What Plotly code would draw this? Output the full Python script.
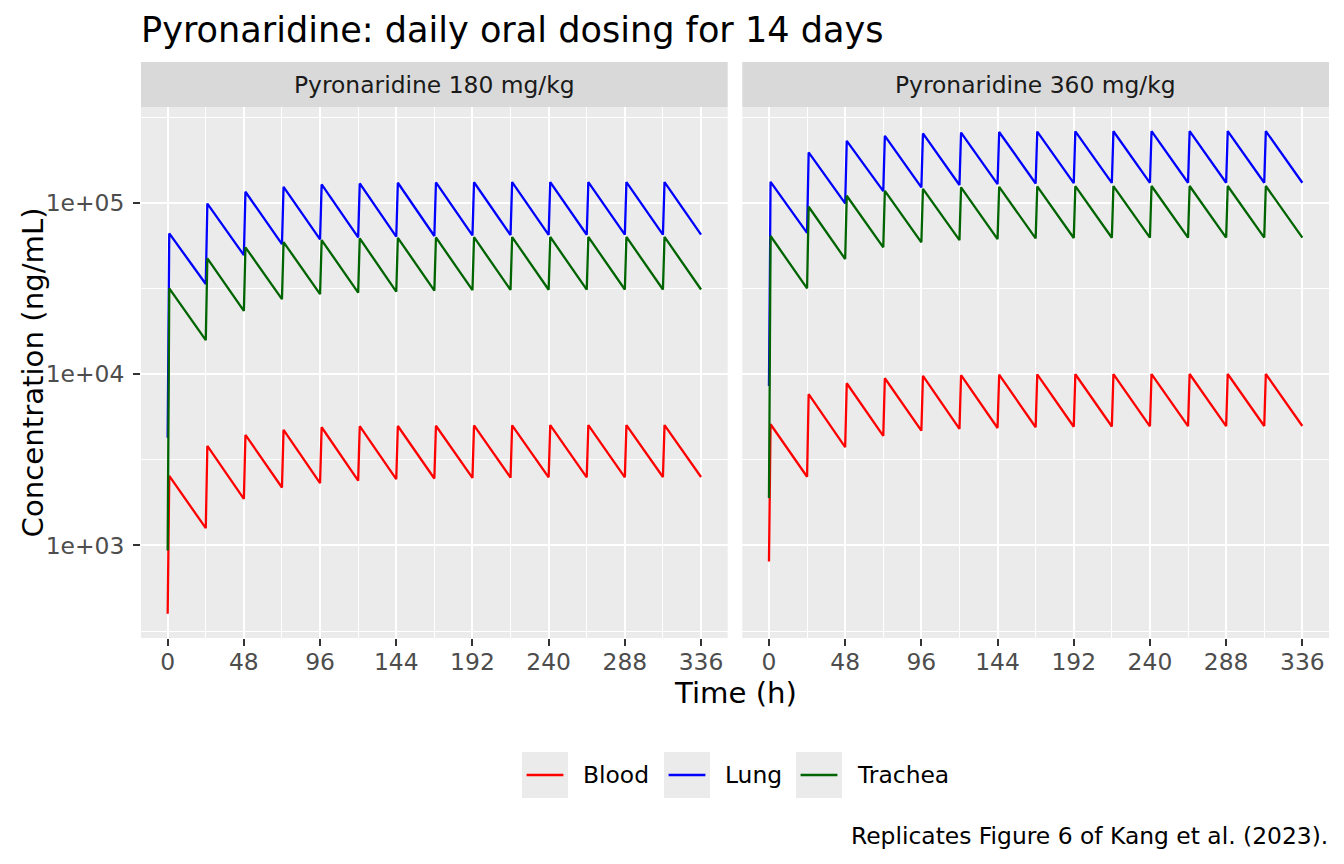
import numpy as np
import plotly.graph_objects as go

# dose times (h) and concentration readings (ng/mL)
dose_h = [0, 24, 48, 72, 96, 120, 144, 168, 192, 216, 240, 264, 288, 312]
peak_h = [1, 25, 49, 73, 97, 121, 145, 169, 193, 217, 241, 265, 289, 313]
trough_h = [24, 48, 72, 96, 120, 144, 168, 192, 216, 240, 264, 288, 312, 336]

tissues = ["Blood", "Lung", "Trachea"]
colors = {"Blood": "#FF0000", "Lung": "#0000FF", "Trachea": "#006400"}
panels = ["Pyronaridine 180 mg/kg", "Pyronaridine 360 mg/kg"]

# 180 mg/kg
blood_180_start = 399
blood_180_peak = [2550, 3810, 4420, 4730, 4900, 4970, 4980, 5000, 5020, 5030, 5040, 5040, 5040, 5040]
blood_180_trough = [1262, 1870, 2180, 2310, 2390, 2440, 2460, 2480, 2490, 2500, 2500, 2500, 2510, 2510]
lung_180_start = 4260
lung_180_peak = [66300, 99000, 116000, 124000, 128000, 129700, 130900, 131500, 131800, 132000, 132100, 132200, 132200, 132200]
lung_180_trough = [33600, 49500, 57400, 61200, 62800, 63400, 64000, 64500, 64800, 65000, 65100, 65200, 65200, 65200]
trachea_180_start = 935
trachea_180_peak = [31700, 47400, 55000, 59000, 60600, 62000, 62500, 62800, 63000, 63100, 63200, 63200, 63200, 63200]
trachea_180_trough = [15800, 23400, 27400, 29300, 29900, 30300, 30700, 30900, 31000, 31100, 31100, 31200, 31200, 31200]

# 360 mg/kg
blood_360_start = 807
blood_360_peak = [5100, 7640, 8850, 9460, 9770, 9860, 9930, 9970, 9990, 10000, 10010, 10020, 10020, 10020]
blood_360_trough = [2520, 3750, 4360, 4680, 4790, 4850, 4900, 4930, 4950, 4960, 4970, 4970, 4980, 4980]
lung_360_start = 8530
lung_360_peak = [132600, 196800, 230000, 246000, 254000, 257000, 259000, 260500, 261200, 261600, 261800, 262000, 262000, 262000]
lung_360_trough = [66800, 99200, 117000, 123000, 127000, 128500, 129700, 130300, 130600, 130800, 131000, 131000, 131000, 131000]
trachea_360_start = 1890
trachea_360_peak = [64000, 94800, 110000, 117500, 120700, 123000, 124000, 124600, 125000, 125200, 125300, 125400, 125400, 125400]
trachea_360_trough = [31700, 47000, 55000, 58800, 60500, 61400, 62000, 62300, 62500, 62600, 62600, 62700, 62700, 62700]

series = {
    (0, "Blood"): (blood_180_start, blood_180_peak, blood_180_trough),
    (0, "Lung"): (lung_180_start, lung_180_peak, lung_180_trough),
    (0, "Trachea"): (trachea_180_start, trachea_180_peak, trachea_180_trough),
    (1, "Blood"): (blood_360_start, blood_360_peak, blood_360_trough),
    (1, "Lung"): (lung_360_start, lung_360_peak, lung_360_trough),
    (1, "Trachea"): (trachea_360_start, trachea_360_peak, trachea_360_trough),
}

W, H = 1344, 864
def px(x):
    return x / W
def py(y):
    return 1 - y / H

FONT = "DejaVu Sans"
SMALL, MID, BIG = 23.4, 29.2, 35.1
fig = go.Figure()

allvals = []
for (p, tis), (start, peaks, troughs) in series.items():
    xs, ys = [0], [start]
    for d, ph, pk, th, tr in zip(dose_h, peak_h, peaks, trough_h, troughs):
        xs += [ph, th]
        ys += [pk, tr]
    allvals += ys
    fig.add_trace(go.Scatter(
        x=xs, y=ys, mode="lines", name=tis, showlegend=False,
        line=dict(color=colors[tis], width=2.3),
        xaxis="x" if p == 0 else "x2", yaxis="y" if p == 0 else "y2",
    ))

lo, hi = np.log10(min(allvals)), np.log10(max(allvals))
yr = [lo - 0.05 * (hi - lo), hi + 0.05 * (hi - lo)]
xr = [0 - 0.05 * 336, 336 + 0.05 * 336]

xticks = [0, 48, 96, 144, 192, 240, 288, 336]
xminor = [24, 72, 120, 168, 216, 264, 312]
yticks = [1e3, 1e4, 1e5]
ytext = ["1e+03", "1e+04", "1e+05"]
yminor = [10 ** 2.5, 10 ** 3.5, 10 ** 4.5, 10 ** 5.5]

dom1 = [px(141), px(727.7)]
dom2 = [px(742.3), px(1329)]
ydom = [py(638), py(107)]

xax = dict(range=xr, tickvals=xticks, showgrid=True, gridcolor="white", gridwidth=2,
           zeroline=False, ticks="outside", ticklen=7, tickwidth=2, tickcolor="#333333",
           tickfont=dict(family=FONT, size=SMALL, color="#4D4D4D"), ticklabelstandoff=-4,
           minor=dict(tickvals=xminor, showgrid=True, gridcolor="white", gridwidth=1, ticks=""),
           showline=False)
yax = dict(type="log", range=yr, tickvals=yticks, showgrid=True, gridcolor="white", gridwidth=2,
           zeroline=False, showline=False,
           minor=dict(tickvals=yminor, showgrid=True, gridcolor="white", gridwidth=1, ticks=""))

fig.update_layout(
    width=W, height=H, margin=dict(l=0, r=0, t=0, b=0),
    paper_bgcolor="white", plot_bgcolor="#EBEBEB",
    showlegend=False,
    xaxis=dict(domain=dom1, anchor="y", **xax),
    xaxis2=dict(domain=dom2, anchor="y2", **xax),
    yaxis=dict(domain=ydom, anchor="x", ticktext=ytext, ticks="outside", ticklen=7, tickwidth=2,
               tickcolor="#333333", tickfont=dict(family=FONT, size=SMALL, color="#4D4D4D"),
               ticklabelstandoff=4, **yax),
    yaxis2=dict(domain=ydom, anchor="x2", showticklabels=False, ticks="", matches="y", **yax),
)

shapes = []
annotations = []
for i, (name, ax) in enumerate(zip(panels, ["x", "x2"])):
    shapes.append(dict(type="rect", xref=ax + " domain", yref="paper", x0=0, x1=1,
                       y0=py(107), y1=py(62), fillcolor="#D9D9D9", line=dict(width=0), layer="below"))
    annotations.append(dict(text=name, xref=ax + " domain", yref="paper", x=0.5, y=py(85),
                            xanchor="center", yanchor="middle", showarrow=False,
                            font=dict(family=FONT, size=SMALL, color="#1A1A1A")))

annotations += [
    dict(text="Pyronaridine: daily oral dosing for 14 days", xref="paper", yref="paper",
         x=px(139), y=py(30), xanchor="left", yanchor="middle", showarrow=False,
         font=dict(family=FONT, size=BIG, color="black")),
    dict(text="Time (h)", xref="paper", yref="paper", x=px(735), y=py(693),
         xanchor="center", yanchor="middle", showarrow=False,
         font=dict(family=FONT, size=MID, color="black")),
    dict(text="Concentration (ng/mL)", xref="paper", yref="paper", x=px(32), y=py(372.5),
         xanchor="center", yanchor="middle", showarrow=False, textangle=-90,
         font=dict(family=FONT, size=MID, color="black")),
    dict(text="Replicates Figure 6 of Kang et al. (2023).", xref="paper", yref="paper",
         x=px(1330), y=py(836), xanchor="right", yanchor="middle", showarrow=False,
         font=dict(family=FONT, size=SMALL, color="black")),
]

# legend drawn as keys + labels at the bottom
key_left = {"Blood": 522, "Lung": 664, "Trachea": 796}
for tis in tissues:
    k = key_left[tis]
    shapes.append(dict(type="rect", xref="paper", yref="paper", x0=px(k), x1=px(k + 46),
                       y0=py(798), y1=py(752), fillcolor="#EBEBEB", line=dict(width=0)))
    shapes.append(dict(type="line", xref="paper", yref="paper", x0=px(k + 4.6), x1=px(k + 41.4),
                       y0=py(775), y1=py(775), line=dict(color=colors[tis], width=2.3)))
    annotations.append(dict(text=tis, xref="paper", yref="paper", x=px(k + 58.5), y=py(775),
                            xanchor="left", yanchor="middle", showarrow=False,
                            font=dict(family=FONT, size=SMALL, color="black")))

fig.update_layout(shapes=shapes, annotations=annotations)
fig.write_html("out.html", config={"displayModeBar": False},
               post_script="document.body.style.margin='0';")
